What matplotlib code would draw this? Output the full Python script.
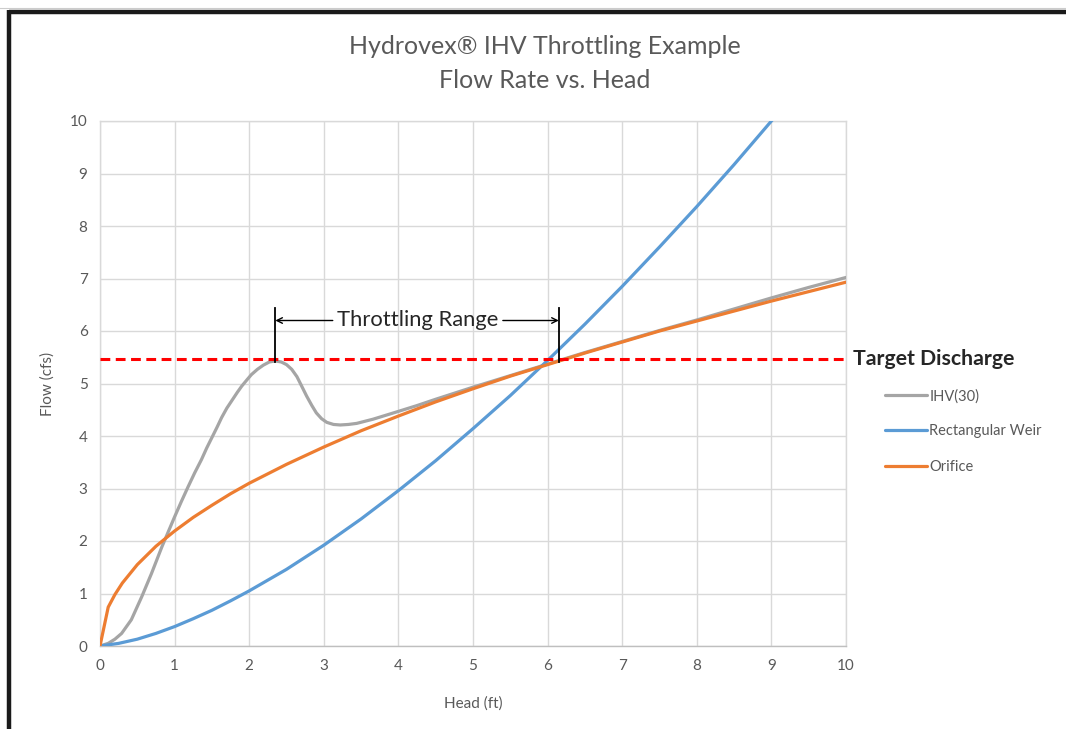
import matplotlib
matplotlib.use("Agg")
import matplotlib.pyplot as plt
from matplotlib.lines import Line2D

plt.rcParams['font.family'] = ['Lato', 'DejaVu Sans']

# ---- data ----
ihv_x = [0, 0.11, 0.2, 0.29, 0.42, 0.56, 0.69, 0.83, 1.0, 1.09, 1.18, 1.27, 1.36, 1.43, 1.5,
         1.57, 1.63, 1.7, 1.77, 1.84, 1.9,
         1.97, 2.03, 2.11, 2.19, 2.27, 2.35, 2.43, 2.5, 2.57, 2.64, 2.7, 2.77, 2.84, 2.9, 2.97,
         3.04, 3.13, 3.22, 3.33, 3.44, 3.66, 3.98, 4.25, 4.5, 5.0, 5.5, 6.0, 6.5, 7.0, 7.5,
         8.0, 8.5, 9.0, 9.5, 10.0]
ihv_y = [0, 0.05, 0.13, 0.24, 0.5, 0.94, 1.38, 1.89, 2.46, 2.75, 3.03, 3.3, 3.55, 3.77, 3.97,
         4.17, 4.35, 4.53, 4.68, 4.83, 4.95,
         5.07, 5.17, 5.27, 5.35, 5.41, 5.43, 5.41, 5.36, 5.27, 5.13, 4.96, 4.76, 4.58, 4.44, 4.33,
         4.26, 4.22, 4.21, 4.22, 4.24, 4.32, 4.46, 4.58, 4.7, 4.93, 5.15, 5.37, 5.59, 5.8, 6.01,
         6.21, 6.42, 6.63, 6.83, 7.02]

weir_x = [0, 0.25, 0.5, 0.75, 1, 1.25, 1.5, 1.75, 2, 2.5, 3, 3.5, 4, 4.5, 5, 5.5, 6, 6.5, 7,
          7.5, 8, 8.5, 9, 9.1]
weir_y = [0, 0.05, 0.13, 0.24, 0.37, 0.52, 0.68, 0.86, 1.05, 1.46, 1.92, 2.42, 2.96, 3.53,
          4.14, 4.77, 5.44, 6.13, 6.85, 7.60, 8.37, 9.17, 10.0, 10.16]

orif_x = [0, 0.11, 0.2, 0.3, 0.38, 0.5, 0.6, 0.75, 0.87, 1, 1.25, 1.5, 1.75, 2, 2.5, 3, 3.5,
          4, 4.5, 5, 5.5, 6, 6.5, 7, 7.5, 8, 8.5, 9, 9.5, 10]
orif_y = [0, 0.74, 0.98, 1.2, 1.34, 1.55, 1.69, 1.9, 2.04, 2.19, 2.45, 2.68, 2.9, 3.1, 3.46,
          3.79, 4.1, 4.38, 4.65, 4.9, 5.14, 5.36, 5.58, 5.79, 6.0, 6.19, 6.38, 6.57, 6.75, 6.93]

target = 5.47
throttle_start = 2.35
throttle_end = 6.15
x_ticks = list(range(0, 11))
y_ticks = list(range(0, 11))

series_labels = ["IHV(30)", "Rectangular Weir", "Orifice"]
colors = ["#A5A5A5", "#5B9BD5", "#ED7D31"]

fig = plt.figure(figsize=(10.66, 7.29), dpi=100)
ax = fig.add_axes([100/1066, 1-646/729, 746/1066, 525/729])

tick_color = "#595959"
ax.set_xlim(0, 10)
ax.set_ylim(0, 10)
ax.set_xticks(x_ticks)
ax.set_yticks(y_ticks)
ax.grid(True, color="#D9D9D9", linewidth=1.0)
ax.set_axisbelow(True)
for s in ax.spines.values():
    s.set_color("#D9D9D9")
    s.set_linewidth(1.0)
ax.spines['bottom'].set_color("#BFBFBF")
ax.tick_params(length=0, labelsize=11, colors=tick_color, pad=9)

ax.set_xlabel("Head (ft)", fontsize=11, color=tick_color, labelpad=17)
ax.set_ylabel("Flow (cfs)", fontsize=11, color=tick_color, labelpad=11)

l1, = ax.plot(ihv_x, ihv_y, color=colors[0], lw=2.3, solid_capstyle='round',
              solid_joinstyle='round', zorder=3)
l2, = ax.plot(weir_x, weir_y, color=colors[1], lw=2.3, solid_capstyle='round',
              solid_joinstyle='round', zorder=3)
l3, = ax.plot(orif_x, orif_y, color=colors[2], lw=2.3, solid_capstyle='round',
              solid_joinstyle='round', zorder=4)

ax.axhline(target, color="#FF0000", lw=2.2, ls=(0, (3.2, 1.8)), zorder=5)

# Throttling range markers
for xv in (throttle_start, throttle_end):
    ax.plot([xv, xv], [5.41, 6.44], color="black", lw=1.3, zorder=6)
ax.annotate("", xy=(throttle_start, 6.2), xytext=(3.12, 6.2),
            arrowprops=dict(arrowstyle="->", color="black", lw=1.0, shrinkA=0, shrinkB=0), zorder=6)
ax.annotate("", xy=(throttle_end, 6.2), xytext=(5.40, 6.2),
            arrowprops=dict(arrowstyle="->", color="black", lw=1.0, shrinkA=0, shrinkB=0), zorder=6)
ax.text((3.12 + 5.40) / 2, 6.2, "Throttling Range", fontsize=15.8, color="#262626",
        ha="center", va="center", zorder=6)

ax.text(10.1, target, "Target Discharge", fontsize=15.3, fontweight="bold", color="#262626",
        ha="left", va="center", clip_on=False)

leg = ax.legend([l1, l2, l3], series_labels, loc="upper left",
                bbox_to_anchor=(885/1066, 1-389/729), bbox_transform=fig.transFigure,
                frameon=False, fontsize=10.5, handlelength=2.9, handletextpad=0.15,
                labelspacing=1.45, borderaxespad=0, borderpad=0)
for t in leg.get_texts():
    t.set_color(tick_color)

fig.text(545/1066, 1-47/729, "Hydrovex\u00ae IHV Throttling Example", fontsize=18,
         color=tick_color, ha="center", va="center")
fig.text(545/1066, 1-81/729, "Flow Rate vs. Head", fontsize=18,
         color=tick_color, ha="center", va="center")

# document border frame
fig.add_artist(Line2D([9/1066, 1.0], [1-11.5/729, 1-11.5/729], color="#1A1A1A", lw=3.2,
                      transform=fig.transFigure, solid_capstyle='butt'))
fig.add_artist(Line2D([9/1066, 9/1066], [0, 1-10/729], color="#1A1A1A", lw=3.2,
                      transform=fig.transFigure, solid_capstyle='butt'))
fig.add_artist(Line2D([0, 1.0], [1-8/729, 1-8/729], color="#CCCCCC", lw=0.8,
                      transform=fig.transFigure))

fig.savefig("out.png", dpi=100)
